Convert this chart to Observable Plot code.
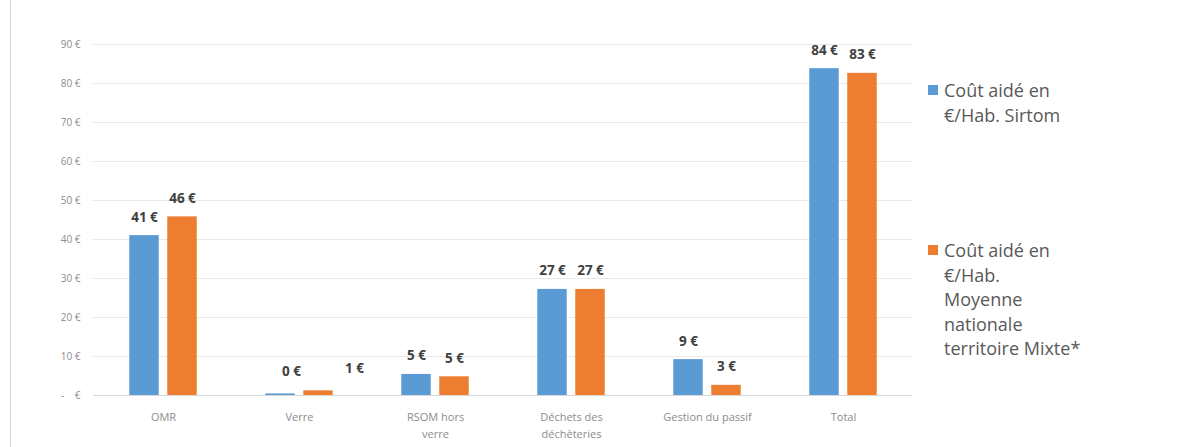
<!DOCTYPE html>
<html><head><meta charset="utf-8">
<script src="https://cdn.jsdelivr.net/npm/d3@7"></script>
<script src="https://cdn.jsdelivr.net/npm/@observablehq/plot@0.6"></script>
<style>
html,body{margin:0;padding:0;background:#fff;}
#wrap{position:relative;width:1190px;height:447px;overflow:hidden;}
#wrap:before{content:"";position:absolute;left:10px;top:0;bottom:0;border-left:1px solid #d9d9d9;}
.legend{position:absolute;left:928px;font-family:"Open Sans",sans-serif;font-size:18px;line-height:24.5px;color:#595959;}
.legend .sw{position:absolute;left:0;top:7px;width:10px;height:10px;}
.legend .tx{margin-left:16px;}
</style></head>
<body><div id="wrap"></div>
<script>
const categories = ["OMR", "Verre", "RSOM hors\nverre", "Déchets des\ndéchèteries", "Gestion du passif", "Total"];
const sirtom = [41, 0.4, 5.4, 27.2, 9.2, 83.8];
const moyenne = [45.8, 1.2, 4.8, 27.2, 2.6, 82.6];
const seriesNames = ["Coût aidé en\n€/Hab. Sirtom", "Coût aidé en\n€/Hab.\nMoyenne\nnationale\nterritoire Mixte*"];
const colors = ["#5b9bd5", "#ed7d31"];
const yTicks = [0, 10, 20, 30, 40, 50, 60, 70, 80, 90];

const blue = categories.map((c, i) => ({cat: c, v: sirtom[i]}));
const orange = categories.map((c, i) => ({cat: c, v: moyenne[i]}));
const lbl = d => Math.round(d.v) + " €";
const isVerre = d => d.cat === "Verre";

const labelStyle = {fontFamily: "'Open Sans', sans-serif", fontSize: 13.5, fontWeight: "bold", fill: "#404040", lineAnchor: "bottom"};

const chart = Plot.plot({
  width: 1190, height: 447,
  marginLeft: 93, marginRight: 278, marginTop: 44, marginBottom: 52,
  style: {fontFamily: "'Open Sans', sans-serif", background: "white"},
  x: {domain: categories, padding: 0, label: null},
  y: {domain: [0, 90], label: null},
  marks: [
    Plot.gridY(yTicks, {stroke: "#d9d9d9", strokeOpacity: 0.6}),
    Plot.axisY(yTicks, {tickSize: 0, tickPadding: 13, fontSize: 10, fill: "#8c8c8c",
      tickFormat: d => d === 0 ? "-    €" : d + " €"}),
    Plot.axisX({tickSize: 0, tickPadding: 14, fontSize: 11, fill: "#8c8c8c", lineHeight: 1.5}),
    Plot.barY(blue, {x: "cat", y: "v", fill: colors[0], insetLeft: 34.25, insetRight: 72.25}),
    Plot.barY(orange, {x: "cat", y: "v", fill: colors[1], insetLeft: 72.25, insetRight: 34.25}),
    Plot.ruleY([0], {stroke: "#d9d9d9"}),
    Plot.text(blue.filter(d => !isVerre(d)), {x: "cat", y: "v", text: lbl, dx: -19, dy: -14, ...labelStyle}),
    Plot.text(orange.filter(d => !isVerre(d)), {x: "cat", y: "v", text: lbl, dx: 19, dy: -14, ...labelStyle}),
    Plot.text(blue.filter(isVerre), {x: "cat", y: "v", text: lbl, dx: -8, dy: -18, ...labelStyle}),
    Plot.text(orange.filter(isVerre), {x: "cat", y: "v", text: lbl, dx: 55, dy: -18, ...labelStyle})
  ]
});
const wrap = document.getElementById("wrap");
wrap.appendChild(chart);

const tops = [78, 238];
seriesNames.forEach((name, i) => {
  const div = document.createElement("div");
  div.className = "legend";
  div.style.top = tops[i] + "px";
  const sw = document.createElement("div");
  sw.className = "sw"; sw.style.background = colors[i];
  const tx = document.createElement("div");
  tx.className = "tx";
  tx.innerHTML = name.split("\n").map(s => s.replace(/&/g,"&amp;")).join("<br>");
  div.appendChild(sw); div.appendChild(tx);
  wrap.appendChild(div);
});
</script></body></html>
